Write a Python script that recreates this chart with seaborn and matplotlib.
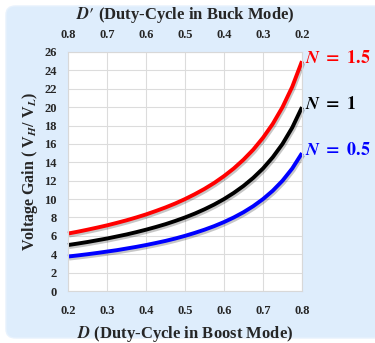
import numpy as np
import pandas as pd
import matplotlib
matplotlib.use("Agg")
import matplotlib.pyplot as plt
import matplotlib.patheffects as pe
from matplotlib.patches import FancyBboxPatch
import seaborn as sns

# Duty cycle in boost mode
duty = [0.2, 0.225, 0.25, 0.275, 0.3, 0.325, 0.35, 0.375, 0.4, 0.425, 0.45, 0.475,
        0.5, 0.525, 0.55, 0.575, 0.6, 0.625, 0.65, 0.675, 0.7, 0.725, 0.75, 0.775, 0.8]

# Voltage gain for each turns ratio
gain_n15 = [6.25, 6.45, 6.67, 6.9, 7.14, 7.41, 7.69, 8.0, 8.33, 8.7, 9.09, 9.52,
            10.0, 10.53, 11.11, 11.76, 12.5, 13.33, 14.29, 15.38, 16.67, 18.18, 20.0, 22.22, 25.0]
gain_n1 = [5.0, 5.16, 5.33, 5.52, 5.71, 5.93, 6.15, 6.4, 6.67, 6.96, 7.27, 7.62,
           8.0, 8.42, 8.89, 9.41, 10.0, 10.67, 11.43, 12.31, 13.33, 14.55, 16.0, 17.78, 20.0]
gain_n05 = [3.75, 3.87, 4.0, 4.14, 4.29, 4.44, 4.62, 4.8, 5.0, 5.22, 5.45, 5.71,
            6.0, 6.32, 6.67, 7.06, 7.5, 8.0, 8.57, 9.23, 10.0, 10.91, 12.0, 13.33, 15.0]

series_names = ["N = 1.5", "N = 1", "N = 0.5"]
series_labels = [r"$\boldsymbol{N}\ \mathbf{=}\ \mathbf{1.5}$",
                 r"$\boldsymbol{N}\ \mathbf{=}\ \mathbf{1}$",
                 r"$\boldsymbol{N}\ \mathbf{=}\ \mathbf{0.5}$"]
series_colors = ["#ff0000", "#000000", "#0000ff"]

bottom_ticks = [0.2, 0.3, 0.4, 0.5, 0.6, 0.7, 0.8]
top_ticks = [0.8, 0.7, 0.6, 0.5, 0.4, 0.3, 0.2]
y_ticks = list(range(0, 27, 2))

df = pd.DataFrame({
    "D": duty * 3,
    "gain": gain_n15 + gain_n1 + gain_n05,
    "series": [series_names[0]] * len(duty) + [series_names[1]] * len(duty) + [series_names[2]] * len(duty),
})

sns.set_theme(style="whitegrid")
plt.rcParams["font.family"] = ["Liberation Serif", "DejaVu Serif"]
plt.rcParams["font.weight"] = "bold"
plt.rcParams["mathtext.fontset"] = "stix"

fig = plt.figure(figsize=(3.75, 3.43), dpi=100)
fig.patch.set_facecolor("white")

# light blue rounded panel behind the chart
panel = FancyBboxPatch((6 / 375, 5 / 343), 1.2, 332 / 343,
                       boxstyle="round,pad=0,rounding_size=0.025",
                       transform=fig.transFigure, facecolor="#deedfc",
                       edgecolor="#e8f2fd", linewidth=1, zorder=-10)
fig.patches.append(panel)

ax = fig.add_axes([68 / 375, (343 - 291) / 343, 234 / 375, 239 / 343])
ax.set_facecolor("white")

sns.lineplot(data=df, x="D", y="gain", hue="series", hue_order=series_names,
             palette=series_colors, linewidth=2.8, legend=False, ax=ax)

for line in ax.get_lines():
    line.set_solid_capstyle("butt")
    line.set_path_effects([pe.SimpleLineShadow(offset=(0.8, -1.3), shadow_color="black",
                                               alpha=0.22, linewidth=3.2),
                           pe.Normal()])
    line.set_clip_on(False)

ax.set_xlim(0.2, 0.8)
ax.set_ylim(0, 26)
ax.set_xticks(bottom_ticks)
ax.set_yticks(y_ticks)
ax.set_xticklabels([f"{t:.1f}" for t in bottom_ticks])
ax.set_yticklabels([str(t) for t in y_ticks])
ax.grid(True, color="#dcdcdc", linewidth=0.8)
for s in ax.spines.values():
    s.set_color("#d8d8d8")
    s.set_linewidth(0.8)
ax.tick_params(axis="x", length=0, pad=10, labelsize=9)
ax.tick_params(axis="y", length=0, pad=8, labelsize=9)
for lab in ax.get_xticklabels() + ax.get_yticklabels():
    lab.set_fontweight("bold")

ax.set_xlabel(r"$\boldsymbol{D}$ (Duty-Cycle in Boost Mode)", fontsize=12,
              fontweight="bold", labelpad=5)
ax.set_ylabel(r"Voltage Gain ( V$_{\boldsymbol{H}}$/ V$_{\boldsymbol{L}}$)", fontsize=11.5,
              fontweight="bold", labelpad=3)

top = ax.secondary_xaxis("top", functions=(lambda d: 1 - d, lambda d: 1 - d))
top.set_xticks(top_ticks)
top.set_xticklabels([f"{t:.1f}" for t in top_ticks])
top.tick_params(length=0, pad=8, labelsize=9)
for lab in top.get_xticklabels():
    lab.set_fontweight("bold")
top.spines["top"].set_visible(False)
top.set_xlabel(r"$\boldsymbol{D\prime}$ (Duty-Cycle in Buck Mode)", fontsize=12,
               fontweight="bold", labelpad=7)

# curve labels at the right end of each curve
end_vals = [gain_n15[-1], gain_n1[-1], gain_n05[-1]]
for lbl, col, yv in zip(series_labels, series_colors, end_vals):
    ax.annotate(lbl, xy=(duty[-1], yv), xytext=(2, 2), textcoords="offset points",
                color=col, fontsize=13, ha="left", va="center", annotation_clip=False)

fig.savefig("out.png", dpi=100)
